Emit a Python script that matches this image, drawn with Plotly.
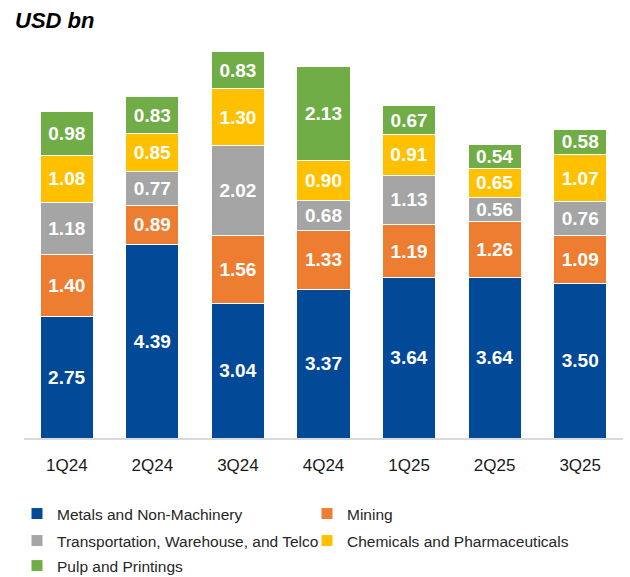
import plotly.graph_objects as go

quarters = ["1Q24", "2Q24", "3Q24", "4Q24", "1Q25", "2Q25", "3Q25"]
metals = [2.75, 4.39, 3.04, 3.37, 3.64, 3.64, 3.50]
mining = [1.40, 0.89, 1.56, 1.33, 1.19, 1.26, 1.09]
transport = [1.18, 0.77, 2.02, 0.68, 1.13, 0.56, 0.76]
chemicals = [1.08, 0.85, 1.30, 0.90, 0.91, 0.65, 1.07]
pulp = [0.98, 0.83, 0.83, 2.13, 0.67, 0.54, 0.58]

series = [
    ("Metals and Non-Machinery", metals, "#024A97", "legend"),
    ("Mining", mining, "#ED7D31", "legend"),
    ("Transportation, Warehouse, and Telco", transport, "#A5A5A5", "legend2"),
    ("Chemicals and Pharmaceuticals", chemicals, "#FFC000", "legend2"),
    ("Pulp and Printings", pulp, "#70AD47", "legend3"),
]

fig = go.Figure()
for name, vals, color, lg in series:
    fig.add_trace(go.Bar(
        x=quarters, y=vals, name=name,
        marker=dict(color=color, line=dict(color="white", width=1)),
        texttemplate="%{y:.2f}", textposition="inside", insidetextanchor="middle",
        textfont=dict(color="white", size=19, family="Liberation Sans, Arial", weight="bold"),
        legend=lg, hoverinfo="skip",
    ))

H = 577
W = 630
legend_common = dict(
    orientation="h", xref="container", yref="container",
    xanchor="left", yanchor="middle", entrywidth=245, traceorder="normal",
    font=dict(size=15.5, family="Liberation Sans, Arial", color="#262626"),
    bgcolor="rgba(0,0,0,0)", itemclick=False, itemdoubleclick=False,
    tracegroupgap=0,
)
fig.update_layout(
    width=W, height=H,
    margin=dict(l=24, r=7, t=40, b=139),
    plot_bgcolor="white", paper_bgcolor="white",
    barmode="stack", bargap=0.38,
    showlegend=True,
    uniformtext=dict(mode="show", minsize=19),
    title=dict(text="<b><i>USD bn</i></b>", x=15 / W, xanchor="left", y=1 - 20 / H, yanchor="middle",
               font=dict(size=22, family="Liberation Sans, Arial", color="black")),
    xaxis=dict(showline=True, linecolor="#D9D9D9", linewidth=2, ticks="", ticklabelstandoff=11,
               tickfont=dict(size=17, family="Liberation Sans, Arial", color="#1a1a1a"),
               showgrid=False, fixedrange=True),
    yaxis=dict(range=[0, 9.02], visible=False, showgrid=False, fixedrange=True),
    legend=dict(legend_common, x=17 / W, y=1 - 514 / H),
    legend2=dict(legend_common, x=17 / W, y=1 - 541 / H),
    legend3=dict(legend_common, x=17 / W, y=1 - 566 / H),
)

fig.write_html("out.html", config={"displayModeBar": False},
               post_script="document.body.style.margin='0';document.body.style.overflow='hidden';")
